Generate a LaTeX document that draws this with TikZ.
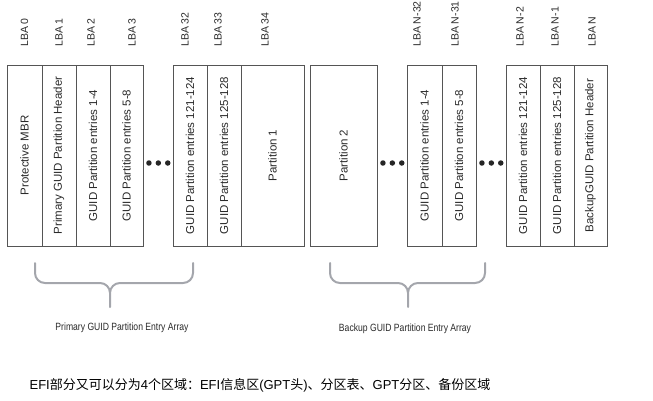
\documentclass[tikz,border=0pt]{standalone}
\usepackage{fontspec}
\setmainfont{Liberation Sans}
\newfontfamily\cjk{Noto Sans CJK SC}
\usetikzlibrary{positioning}
\definecolor{boxline}{HTML}{555555}
\definecolor{boxtext}{HTML}{2A2A2A}
\definecolor{bracegray}{HTML}{A4A6AC}

\begin{document}
\begin{tikzpicture}[
    x=1pt, y=-1pt,
    every node/.style={inner sep=0pt},
    blk/.style={draw=boxline, line width=0.9pt, outer sep=0pt, minimum width=34pt, minimum height=181pt, text=boxtext, font=\fontsize{11.5}{13}\selectfont},
    lba/.style={anchor=south, text=boxtext, font=\fontsize{10.5}{12}\selectfont},
    dot/.style={circle, fill=black!85, minimum size=5.5pt},
    brc/.style={draw=bracegray, line width=2pt, line cap=round},
    brlbl/.style={text=boxtext, font=\fontsize{10.5}{12}\selectfont},
    capt/.style={text=black, font=\fontsize{13}{15}\selectfont}
]
\useasboundingbox (0,0) rectangle (653,401);

% primary header and entries
\node[blk, minimum width=35pt] (mbr) at (24.5,155.5) {\rotatebox{90}{Protective MBR}};
\node[blk, right=0pt of mbr] (hdr) {\rotatebox{90}{Primary GUID Partition Header}};
\node[blk, right=0pt of hdr] (e14) {\rotatebox{90}{GUID Partition entries 1-4}};
\node[blk, right=0pt of e14, minimum width=33pt] (e58) {\rotatebox{90}{GUID Partition entries 5-8}};
\node[dot, right=3pt of e58, yshift=-7.5pt] (d1a) {};
\node[dot, right=3.5pt of d1a] (d1b) {};
\node[dot, right=3.5pt of d1b] (d1c) {};
\node[blk, right=30pt of e58] (e121) {\rotatebox{90}{GUID Partition entries 121-124}};
\node[blk, right=0pt of e121] (e125) {\rotatebox{90}{GUID Partition entries 125-128}};
\node[blk, right=0pt of e125, minimum width=63pt] (p1) {\rotatebox{90}{Partition 1}};
\node[blk, right=6pt of p1, minimum width=67pt] (p2) {\rotatebox{90}{Partition 2}};

% backup entries and header
\node[dot, right=3pt of p2, yshift=-7.5pt] (d2a) {};
\node[dot, right=3.5pt of d2a] (d2b) {};
\node[dot, right=3.5pt of d2b] (d2c) {};
\node[blk, right=30pt of p2, minimum width=35pt] (be14) {\rotatebox{90}{GUID Partition entries 1-4}};
\node[blk, right=0pt of be14] (be58) {\rotatebox{90}{GUID Partition entries 5-8}};
\node[dot, right=3pt of be58, yshift=-7.5pt] (d3a) {};
\node[dot, right=3.5pt of d3a] (d3b) {};
\node[dot, right=3.5pt of d3b] (d3c) {};
\node[blk, right=30pt of be58] (be121) {\rotatebox{90}{GUID Partition entries 121-124}};
\node[blk, right=0pt of be121] (be125) {\rotatebox{90}{GUID Partition entries 125-128}};
\node[blk, right=0pt of be125, minimum width=33pt] (bhdr) {\rotatebox{90}{BackupGUID Partition Header}};

% LBA numbers
\node[lba] (l0) at ([yshift=18pt]mbr.north) {\rotatebox{90}{LBA 0}};
\node[lba] (l1) at ([yshift=18pt]hdr.north) {\rotatebox{90}{LBA 1}};
\node[lba] (l2) at ([xshift=-2pt,yshift=18pt]e14.north) {\rotatebox{90}{LBA 2}};
\node[lba] (l3) at ([xshift=5.5pt,yshift=18pt]e58.north) {\rotatebox{90}{LBA 3}};
\node[lba] (l32) at ([xshift=-5pt,yshift=18pt]e121.north) {\rotatebox{90}{LBA 32}};
\node[lba] (l33) at ([xshift=-6pt,yshift=18pt]e125.north) {\rotatebox{90}{LBA 33}};
\node[lba] (l34) at ([xshift=-7.5pt,yshift=18pt]p1.north) {\rotatebox{90}{LBA 34}};
\node[lba] (ln32) at ([xshift=-7.5pt,yshift=18pt]be14.north) {\rotatebox{90}{LBA N-32}};
\node[lba] (ln31) at ([xshift=-4pt,yshift=18pt]be58.north) {\rotatebox{90}{LBA N-31}};
\node[lba] (ln2) at ([xshift=-3pt,yshift=18pt]be121.north) {\rotatebox{90}{LBA N-2}};
\node[lba] (ln1) at ([xshift=-2pt,yshift=18pt]be125.north) {\rotatebox{90}{LBA N-1}};
\node[lba] (ln) at ([xshift=1.5pt,yshift=18pt]bhdr.north) {\rotatebox{90}{LBA N}};

% braces
\coordinate (pritip) at (110,307);
\coordinate (bkptip) at (408,307);
\draw[brc] (35,263) -- (35,273) to[out=-90,in=180] (45,283) -- (100,283) to[out=0,in=90] (pritip |- 0,293) -- (pritip)
    (pritip |- 0,293) to[out=90,in=180] (120,283) -- (183,283) to[out=0,in=-90] (193,273) -- (193,263);
\draw[brc] (330,263) -- (330,273) to[out=-90,in=180] (340,283) -- (398,283) to[out=0,in=90] (bkptip |- 0,293) -- (bkptip)
    (bkptip |- 0,293) to[out=90,in=180] (418,283) -- (475,283) to[out=0,in=-90] (485,273) -- (485,263);
\node[brlbl] (prilbl) at (122,328) {\scalebox{0.82}[1]{Primary GUID Partition Entry Array}};
\node[brlbl] (bkplbl) at (405,329) {\scalebox{0.82}[1]{Backup GUID Partition Entry Array}};

\node[capt] (caption) at (260,385) {EFI{\cjk 部分又可以分为}4{\cjk 个区域：}EFI{\cjk 信息区}(GPT{\cjk 头}){\cjk 、分区表、}GPT{\cjk 分区、备份区域}};
\end{tikzpicture}
\end{document}
